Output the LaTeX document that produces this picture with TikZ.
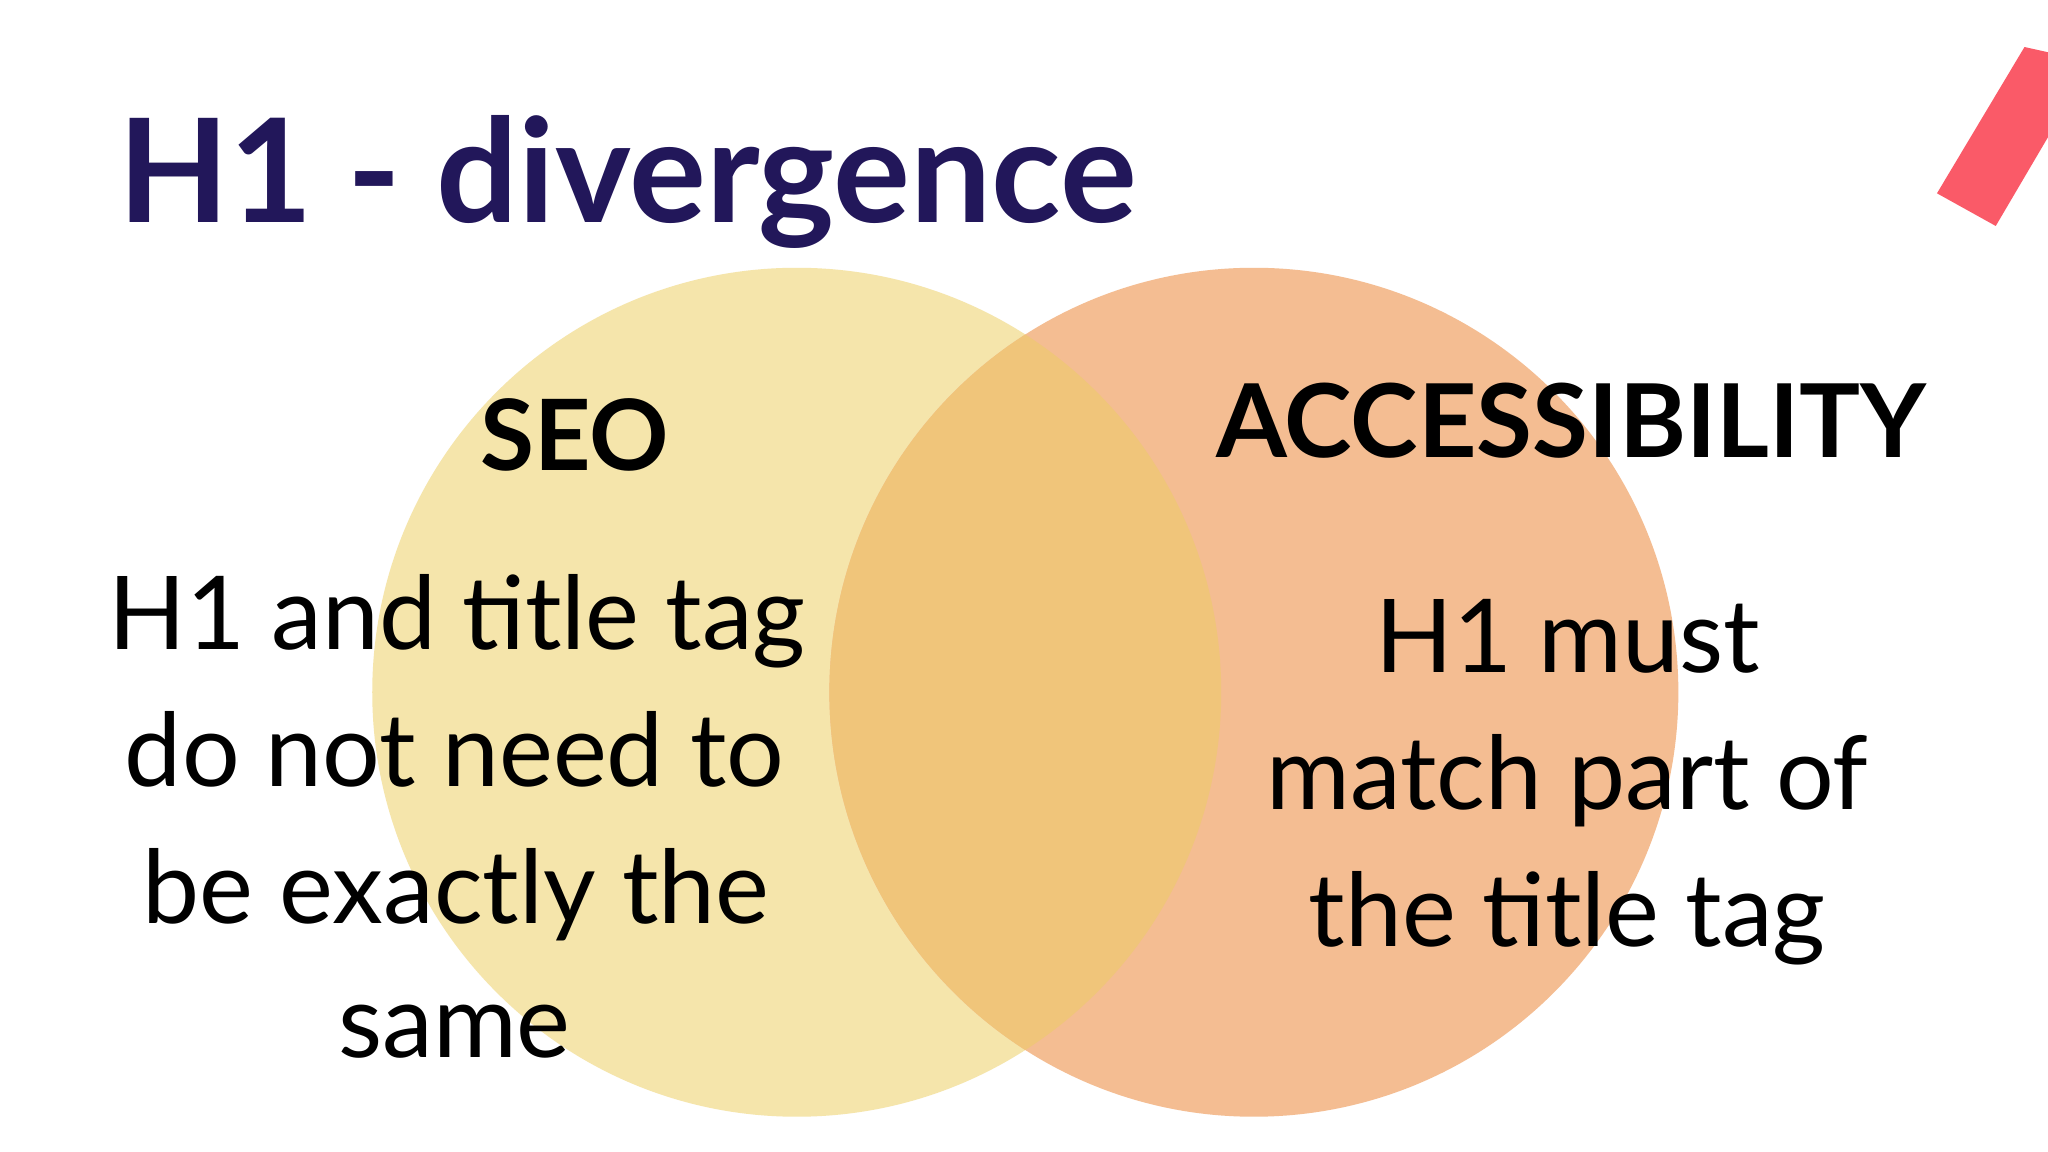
\documentclass[tikz,border=0pt]{standalone}
\usepackage{fontspec}
\setmainfont{Lato}
\definecolor{navy}{HTML}{22175A}
\definecolor{cyel}{HTML}{F5E5AB}
\definecolor{corg}{HTML}{F4BD92}
\definecolor{cmix}{HTML}{F0C57A}
\definecolor{cred}{HTML}{FA5A68}
\begin{document}
\begin{tikzpicture}[x=0.01306cm,y=-0.01306cm,
  body/.style={anchor=base,font=\fontsize{29}{35}\selectfont,text=black,inner sep=0},
  head/.style={anchor=base,font=\fontsize{28}{34}\selectfont\bfseries,text=black,inner sep=0}]
\useasboundingbox (0,0) rectangle (1568,882);
\fill[white] (0,0) rectangle (1568,882);
\fill[cyel] (610,530) circle (325);
\fill[corg] (960,530) circle (325);
\begin{scope}
\clip (610,530) circle (325);
\fill[cmix] (960,530) circle (325);
\end{scope}
\fill[cred] (1483,148) -- (1528,173) -- (1568,105) -- (1568,40) -- (1550,36) -- cycle;
\node[anchor=base west,inner sep=0,text=navy,font=\fontsize{41}{48}\selectfont\bfseries] (title) at (90,170) {H1 - divergence};
\node[head] (seo) at (440,360) {SEO};
\node[head,font=\fontsize{29}{34}\selectfont\bfseries] (acc) at (1203,350) {ACCESSIBILITY};
\node[body] (l1) at (350,497) {H1 and title tag};
\node[body] (l2) at (348,602) {do not need to};
\node[body] (l3) at (349,707) {be exactly the};
\node[body] (l4) at (348,810) {same};
\node[body] (r1) at (1200,515) {H1 must};
\node[body] (r2) at (1200,620) {match part of};
\node[body] (r3) at (1200,725) {the title tag};
\end{tikzpicture}
\end{document}
